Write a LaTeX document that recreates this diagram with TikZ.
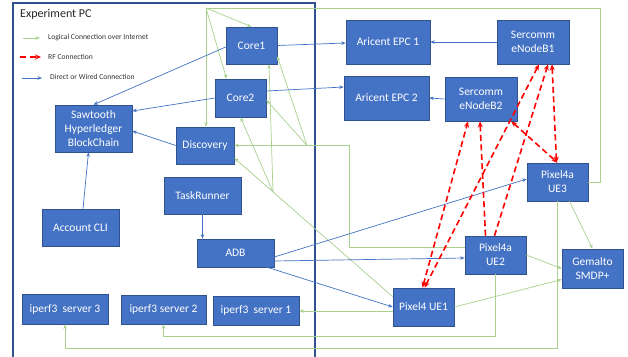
\documentclass[tikz,border=0pt]{standalone}
\usepackage{fontspec}
\setmainfont{Carlito}
\usetikzlibrary{arrows.meta,calc}
\definecolor{nodeblue}{HTML}{4472C4}
\definecolor{nodeedge}{HTML}{2F528F}
\definecolor{lgreen}{HTML}{A9D18E}
\begin{document}
\begin{tikzpicture}[x=1pt,y=-1pt,
  box/.style={draw=nodeedge, line width=0.6pt, fill=nodeblue, text=white,
    font=\fontsize{11.5}{14}\selectfont, align=center, inner sep=0pt},
  sz/.style n args={2}{minimum width=#1pt, minimum height=#2pt},
  logic/.style={draw=lgreen, line width=0.7pt},
  garrow/.style={logic, -{Stealth[length=4.5pt,width=3.5pt]}},
  wire/.style={draw=nodeblue, line width=0.7pt, -{Stealth[length=4.5pt,width=3.5pt]}},
  rf/.style={draw=red, line width=1.6pt, dash pattern=on 6pt off 3.5pt, -{Stealth[length=6pt,width=5pt]}},
  rfboth/.style={rf, {Stealth[length=6pt,width=5pt]}-{Stealth[length=6pt,width=5pt]}},
  legtxt/.style={font=\fontsize{7.6}{9}\selectfont, anchor=west, text=black!80, inner sep=0pt},
  ]
\useasboundingbox (0,0) rectangle (628,356);
\fill[white] (0,0) rectangle (628,356);

% Experiment PC frame
\draw[nodeedge, line width=1.2pt] (13,370) -- (13,3) -- (315,3) -- (315,370);
\node[anchor=west, font=\fontsize{12}{14}\selectfont, text=black!85, inner sep=0pt] (title) at (20,14) {Experiment PC};

% Legend
\coordinate (lga) at (23,38); \coordinate (lgb) at (40,38);
\draw[garrow] (lga) -- (lgb);
\node[legtxt] (lgt1) at (48,38) {Logical Connection over Internet};
\coordinate (lra) at (20,57); \coordinate (lrb) at (41,57);
\draw[rf] (lra) -- (lrb);
\node[legtxt] (lgt2) at (48,57) {RF Connection};
\coordinate (lba) at (22,78); \coordinate (lbb) at (42,78);
\draw[wire] (lba) -- (lbb);
\node[legtxt] (lgt3) at (50,77) {Direct or Wired Connection};

% Nodes
\node[box, sz={51}{37}] (core1) at (251.5,45.5) {Core1};
\node[box, sz={51}{38}] (core2) at (240.5,98) {Core2};
\node[box, sz={77}{47}] (saw) at (93.5,128.5) {Sawtooth\\Hyperledger\\BlockChain};
\node[box, sz={58}{37}] (disc) at (205,145.5) {Discovery};
\node[box, sz={77}{37}] (task) at (202.5,195.5) {TaskRunner};
\node[box, sz={77}{37}] (acct) at (80.5,227.5) {Account CLI};
\node[box, sz={77}{28}] (adb) at (235.5,253) {ADB};
\node[box, sz={86}{30}] (ip3) at (65,309) {iperf3~~server 3};
\node[box, sz={85}{29}] (ip2) at (163.5,309.5) {iperf3 server 2};
\node[box, sz={86}{29}] (ip1) at (256,310.5) {iperf3~~server 1};
\node[box, sz={84}{44}] (epc1) at (388,42) {Aricent EPC 1};
\node[box, sz={85}{44}] (epc2) at (386.5,98) {Aricent EPC 2};
\node[box, sz={72}{44}] (enb1) at (533,42) {Sercomm\\eNodeB1};
\node[box, sz={72}{44}] (enb2) at (481,99) {Sercomm\\eNodeB2};
\node[box, sz={61}{38}] (ue3) at (557.5,182) {Pixel4a\\UE3};
\node[box, sz={61}{38}] (ue2) at (495.5,255) {Pixel4a\\UE2};
\node[box, sz={61}{39}] (gem) at (592.5,268.5) {Gemalto\\SMDP+};
\node[box, sz={61}{38}] (ue1) at (423.5,307) {Pixel4 UE1};

% Green logical connections
\coordinate (fa) at (206,8);
\coordinate (ra) at (600,182);
\coordinate (rb) at (600,8);
\draw[logic] (ue3.east) -- (ra) -- (rb) -- (fa);
\draw[garrow] (fa) -- (core1.north);
\draw[garrow] (fa) -- ($(core2.north)+(-14,0)$);
\draw[garrow] (fa) -- ($(disc.north)+(1,0)$);

\coordinate (eb1) at (349,247);
\coordinate (eb2) at (349,145.5);
\coordinate (fb) at (307,145.5);
\draw[garrow] ($(ue2.west)+(0,-8)$) -- (eb1) -- (eb2) -- (disc.east);
\draw[garrow] (fb) -- ($(core1.east)+(0,11)$);
\draw[garrow] (fb) -- ($(core2.east)+(0,2)$);

\coordinate (ue1s) at ($(ue1.north west)+(0,9)$);
\coordinate (fc) at (273,192);
\draw[garrow] (ue1s) -- ($(disc.east)+(0,12.5)$);
\draw[garrow] (fc) -- ($(core1.south)+(17.5,0)$);
\draw[garrow] (fc) -- (core2.south);

\draw[garrow] ($(ue1.west)+(0,4)$) -- ($(ip1.east)+(0,0.5)$);
\draw[garrow] (ue2.south) -- ++(0,62) -| (ip2.south);
\draw[garrow] (ue3.south) -- ++(0,147) -| (ip3.south);
\draw[garrow] ($(ue3.south)+(12,0)$) -- (gem.north);
\draw[garrow] (ue2.east) -- (gem.west);
\draw[garrow] (ue1.east) -- ($(gem.west)+(0,11)$);

% Blue wired connections
\draw[wire] ($(core1.west)+(0,1.5)$) -- (saw.north);
\draw[wire] (core2.west) -- ($(saw.east)+(0,-17.5)$);
\draw[wire] (disc.west) -- ($(saw.east)+(0,2.5)$);
\draw[wire] ($(acct.north)+(2.5,0)$) -- ($(saw.south)+(-5,0)$);
\draw[wire] (task.south) -- (task.south |- adb.north);
\draw[wire] (core1.east) -- ($(epc1.west)+(0,1)$);
\draw[wire] ($(core2.east)+(0,-7)$) -- ($(epc2.west)+(0,-11)$);
\draw[wire] (enb1.west) -- (epc1.east);
\draw[wire] (enb2.west) -- (epc2.east);
\draw[wire] ($(adb.east)+(0,4)$) -- ($(ue3.west)+(0,-3)$);
\draw[wire] ($(adb.east)+(0,8)$) -- ($(ue2.west)+(0,3)$);
\draw[wire] ($(adb.south east)+(-7,0)$) -- (ue1.west);

% RF connections
\draw[rfboth] ($(ue1.north)+(-1,0)$) -- ($(enb2.south)+(-13,0)$);
\draw[rfboth] ($(ue1.north)+(1,0)$) -- ($(enb1.south)+(6,0)$);
\draw[rf] ($(ue2.north)+(-10,0)$) -- ($(enb2.south)+(-1,0)$);
\draw[rf] ($(ue2.north)+(-1,0)$) -- ($(enb1.south)+(15,0)$);
\draw[rfboth] ($(enb2.south east)+(-6,0)$) -- (ue3.north);
\draw[rfboth] ($(enb1.south)+(19,0)$) -- ($(ue3.north)+(-1,0)$);
\end{tikzpicture}
\end{document}
